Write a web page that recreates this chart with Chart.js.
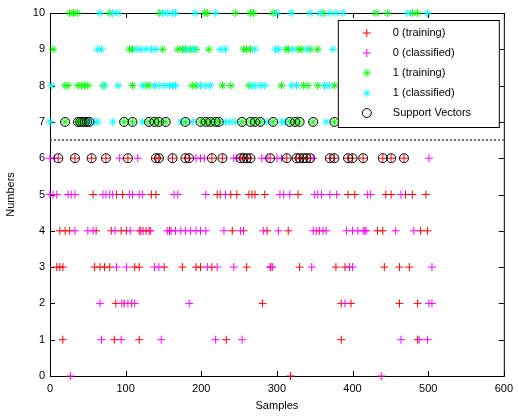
<!DOCTYPE html>
<html>
<head>
<meta charset="utf-8">
<title>SVM samples</title>
<script src="https://cdn.jsdelivr.net/npm/chart.js@4.4.0/dist/chart.umd.min.js"></script>
<style>
  html, body { margin: 0; padding: 0; background: #fff; }
  #chart { display: block; }
</style>
</head>
<body>
<canvas id="chart" width="519" height="417"></canvas>
<script>
// x positions (samples) per "Numbers" level
// class 0 sits on levels 0..6, class 1 on levels 7..10
const train0Rows = [
  [318],
  [17, 85, 118, 233, 385, 486],
  [87, 98, 108, 281, 385, 398, 462, 486],
  [9, 13, 17, 59, 66, 72, 79, 112, 118, 151, 175, 193, 199, 214, 260, 292, 330, 378, 390, 442, 462, 475],
  [13, 20, 26, 61, 81, 94, 101, 118, 123, 127, 131, 158, 241, 256, 287, 315, 356, 433, 440, 490, 499],
  [57, 88, 96, 134, 140, 221, 225, 239, 247, 263, 267, 271, 284, 328, 394, 403, 444, 451, 470, 479, 497],
  [11, 33, 55, 74, 103, 140, 144, 162, 179, 184, 214, 228, 252, 256, 260, 265, 291, 313, 326, 330, 335, 339, 344, 370, 376, 394, 400, 414, 440, 451, 468]
];
const class0Rows = [
  [27, 438],
  [68, 94, 147, 219, 254, 464, 488, 499],
  [66, 95, 103, 112, 184, 390, 501, 505],
  [88, 101, 138, 144, 208, 221, 243, 291, 294, 346, 396, 400, 505],
  [33, 50, 57, 86, 106, 120, 133, 155, 160, 166, 173, 179, 186, 193, 199, 206, 230, 252, 282, 302, 348, 352, 361, 365, 392, 400, 407, 414, 416, 418, 457, 481],
  [0, 4, 9, 24, 28, 33, 70, 74, 79, 83, 105, 109, 118, 122, 164, 169, 206, 232, 304, 309, 317, 350, 354, 359, 370, 379, 420, 424, 464],
  [0, 6, 92, 116, 193, 199, 204, 243, 247, 280, 287, 300, 306, 348, 501]
];
const train1Rows = [
  [20, 37, 40, 43, 46, 49, 98, 109, 131, 138, 144, 153, 179, 199, 206, 212, 219, 223, 254, 265, 271, 278, 295, 317, 324, 330, 348, 376],
  [20, 24, 37, 42, 46, 50, 70, 109, 127, 131, 188, 193, 228, 239, 263, 306, 335, 341, 354, 363, 376],
  [4, 105, 109, 149, 169, 175, 179, 186, 193, 210, 256, 260, 265, 312, 315, 328, 333, 344, 354],
  [26, 31, 36, 79, 145, 204, 208, 245, 265, 269, 295, 361, 431, 446, 479, 486]
];
const class1Rows = [
  [0, 52, 59, 63, 83, 122, 173, 188, 232, 238, 245, 286, 306, 311, 365, 387, 409, 422, 435, 457, 475, 497, 510],
  [2, 72, 90, 122, 138, 144, 151, 158, 162, 166, 199, 206, 212, 267, 271, 278, 284, 319, 326, 363, 369],
  [63, 68, 114, 120, 127, 134, 140, 181, 190, 225, 232, 271, 298, 302, 321, 340, 374],
  [66, 83, 90, 149, 155, 162, 166, 192, 219, 300, 319, 344, 357, 370, 378, 387, 473, 499]
];
// support vectors, levels 6 and 7
const supportRows = [
  [11, 33, 55, 74, 103, 140, 144, 162, 179, 184, 214, 228, 252, 256, 260, 265, 291, 313, 326, 330, 335, 339, 344, 370, 376, 394, 400, 414, 440, 451, 468],
  [20, 37, 40, 43, 46, 49, 52, 98, 109, 131, 138, 144, 153, 179, 199, 206, 212, 219, 223, 254, 265, 271, 278, 295, 317, 324, 330, 348, 376]
];
const boundaryLevel = 6.5;
const xTicks = [0, 100, 200, 300, 400, 500, 600];
const yTicks = [0, 1, 2, 3, 4, 5, 6, 7, 8, 9, 10];
const seriesLabels = ['0 (training)', '0 (classified)', '1 (training)', '1 (classified)', 'Support Vectors'];

function toPoints(rows, firstLevel) {
  const pts = [];
  rows.forEach((xs, i) => {
    xs.forEach(x => pts.push({ x: x, y: firstLevel + i }));
  });
  return pts;
}

const FONT = '"Liberation Sans", Arial, sans-serif';

// MATLAB style box with inward ticks
const axesBox = {
  id: 'axesBox',
  beforeDatasetsDraw(chart) {
    const { ctx, chartArea: a, scales } = chart;
    ctx.save();
    ctx.strokeStyle = '#000';
    ctx.lineWidth = 1;
    ctx.strokeRect(a.left + 0.5, a.top + 0.5, a.right - a.left, a.bottom - a.top);
    ctx.beginPath();
    scales.x.ticks.forEach(t => {
      const px = Math.round(scales.x.getPixelForValue(t.value)) + 0.5;
      ctx.moveTo(px, a.bottom); ctx.lineTo(px, a.bottom - 5);
      ctx.moveTo(px, a.top); ctx.lineTo(px, a.top + 5);
    });
    scales.y.ticks.forEach(t => {
      const py = Math.round(scales.y.getPixelForValue(t.value)) + 0.5;
      ctx.moveTo(a.left, py); ctx.lineTo(a.left + 5, py);
      ctx.moveTo(a.right, py); ctx.lineTo(a.right - 5, py);
    });
    ctx.stroke();
    ctx.restore();
  }
};

// legend box drawn inside the axes, on top of the markers
const boxLegend = {
  id: 'boxLegend',
  afterDraw(chart) {
    const { ctx, chartArea: a } = chart;
    const w = 161, h = 107;
    const left = a.right - w - 5, top = a.top + 7;
    ctx.save();
    ctx.fillStyle = '#fff';
    ctx.fillRect(left, top, w, h);
    ctx.strokeStyle = '#000';
    ctx.lineWidth = 1;
    ctx.strokeRect(left + 0.5, top + 0.5, w, h);
    ctx.font = '11px ' + FONT;
    ctx.textBaseline = 'middle';
    const order = [0, 1, 2, 3, 4];
    order.forEach((di, i) => {
      const ds = chart.data.datasets[di];
      const y = top + 13 + i * 20;
      ctx.strokeStyle = ds.pointBorderColor;
      ctx.fillStyle = ds.pointBackgroundColor;
      Chart.helpers.drawPoint(ctx, {
        pointStyle: ds.pointStyle,
        radius: ds.pointRadius,
        borderWidth: 1,
        rotation: 0
      }, left + 29, y);
      ctx.fillStyle = '#000';
      ctx.fillText(ds.label, left + 55, y);
    });
    ctx.restore();
  }
};

function markers(label, data, style, color, radius, order) {
  return {
    label: label,
    data: data,
    showLine: false,
    pointStyle: style,
    pointRadius: radius,
    pointBorderWidth: 1,
    pointBorderColor: color,
    pointBackgroundColor: style === 'circle' ? 'rgba(0,0,0,0)' : color,
    clip: false,
    order: order
  };
}

new Chart(document.getElementById('chart'), {
  type: 'scatter',
  data: {
    datasets: [
      markers(seriesLabels[0], toPoints(train0Rows, 0), 'cross', '#ff0000', 4, 5),
      markers(seriesLabels[1], toPoints(class0Rows, 0), 'cross', '#ff00ff', 4, 3),
      markers(seriesLabels[2], toPoints(train1Rows, 7), 'star', '#00ff00', 4, 4),
      markers(seriesLabels[3], toPoints(class1Rows, 7), 'star', '#00ffff', 4, 2),
      markers(seriesLabels[4], toPoints(supportRows, 6), 'circle', '#000000', 4.5, 0),
      {
        type: 'line',
        label: 'boundary',
        data: [{ x: xTicks[0], y: boundaryLevel }, { x: xTicks[xTicks.length - 1], y: boundaryLevel }],
        borderColor: '#444',
        borderWidth: 1.5,
        borderDash: [2, 2],
        pointRadius: 0,
        order: 6
      }
    ]
  },
  options: {
    responsive: false,
    animation: false,
    events: [],
    devicePixelRatio: 1,
    layout: { padding: { top: 13, right: 12, left: 0, bottom: 0 } },
    plugins: { legend: { display: false }, tooltip: { enabled: false } },
    scales: {
      x: {
        type: 'linear',
        min: xTicks[0],
        max: xTicks[xTicks.length - 1],
        afterBuildTicks: s => { s.ticks = xTicks.map(v => ({ value: v })); },
        afterFit: s => { s.height = 41; },
        grid: { display: false, drawTicks: false },
        border: { display: false },
        ticks: { color: '#000', font: { family: FONT, size: 11 }, padding: 6, maxRotation: 0 },
        title: { display: true, text: 'Samples', color: '#000', font: { family: FONT, size: 11 }, padding: { top: 0, bottom: 4 } }
      },
      y: {
        type: 'linear',
        min: yTicks[0],
        max: yTicks[yTicks.length - 1],
        afterBuildTicks: s => { s.ticks = yTicks.map(v => ({ value: v })); },
        afterFit: s => { s.width = 50; },
        grid: { display: false, drawTicks: false },
        border: { display: false },
        ticks: { color: '#000', font: { family: FONT, size: 11 }, padding: 5 },
        title: { display: true, text: 'Numbers', color: '#000', font: { family: FONT, size: 11 }, padding: { top: 4, bottom: 0 } }
      }
    }
  },
  plugins: [axesBox, boxLegend]
});
</script>
</body>
</html>
